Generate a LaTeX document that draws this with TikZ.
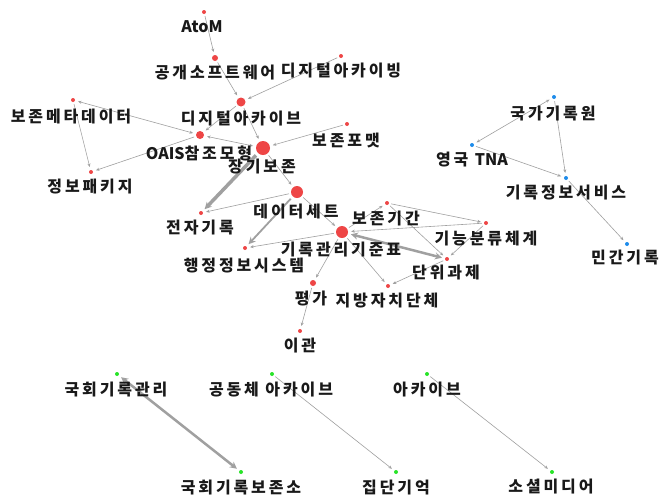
\documentclass[tikz,border=0pt]{standalone}
\usepackage{fontspec}
\newfontfamily\kr[LetterSpace=18]{Noto Sans CJK KR}
\newfontfamily\krl{Noto Sans CJK KR}
\usetikzlibrary{arrows.meta}
\definecolor{rd}{RGB}{238,70,70}
\definecolor{bl}{RGB}{30,140,235}
\definecolor{gr}{RGB}{40,228,40}
\definecolor{eg}{RGB}{160,160,160}
\definecolor{tx}{RGB}{25,25,25}
\begin{document}
\begin{tikzpicture}[x=1pt,y=-1pt,
  dot/.style={circle,inner sep=0pt,minimum size=#1},
  r/.style={dot=#1,fill=rd},
  b/.style={dot=#1,fill=bl},
  g/.style={dot=#1,fill=gr},
  lbl/.style={font=\kr\bfseries\fontsize{16}{18}\selectfont,text=tx,inner sep=0pt},
  e/.style={draw=eg,line width=0.6pt,-{Stealth[length=3.5pt,width=3pt]},shorten >=3pt,shorten <=2pt},
  ee/.style={e,{Stealth[length=3.5pt,width=3pt]}-{Stealth[length=3.5pt,width=3pt]},shorten <=3pt},
  thk/.style={draw=eg,line width=#1,-{Stealth[length=7pt,width=7pt]},shorten >=3pt,shorten <=3pt},
  thkk/.style={thk=#1,{Stealth[length=7pt,width=7pt]}-{Stealth[length=7pt,width=7pt]}}
]
\useasboundingbox (0,0) rectangle (659,499);
\fill[white] (0,0) rectangle (659,499);
% dots
\node[r=4pt] (atom) at (204,12) {};
\node[r=6pt] (pub) at (215,58) {};
\node[r=4pt] (dac) at (341,56) {};
\node[r=9pt] (dar) at (241,102) {};
\node[r=8pt] (oais) at (200,135) {};
\node[r=14pt] (ltp) at (263,148) {};
\node[r=4pt] (pmd) at (73,100) {};
\node[r=4pt] (pfm) at (347,124) {};
\node[r=4pt] (pkg) at (91,172) {};
\node[r=4pt] (erec) at (201,213) {};
\node[r=12pt] (ds) at (297,192) {};
\node[r=4pt] (adm) at (245,248) {};
\node[r=12pt] (rms) at (342,232) {};
\node[r=4pt] (ret) at (387,203) {};
\node[r=4pt] (fcs) at (486,223) {};
\node[r=4pt] (unit) at (447,259) {};
\node[r=6pt] (eval) at (313,283) {};
\node[r=4pt] (loc) at (388,286) {};
\node[r=4pt] (trans) at (300,331) {};
\node[b=4pt] (nak) at (554,97) {};
\node[b=4pt] (tna) at (472,145) {};
\node[b=4pt] (ris) at (566,178) {};
\node[b=4pt] (priv) at (627,244) {};
\node[g=4pt] (nal) at (117,374) {};
\node[g=4pt] (ca) at (272,374) {};
\node[g=4pt] (arc) at (427,374) {};
\node[g=4pt] (nar) at (241,472) {};
\node[g=4pt] (cm) at (396,472) {};
\node[g=4pt] (sm) at (552,472) {};
% edges
\draw[e] (atom) -- (pub);
\draw[e] (pub) -- (dar);
\draw[e] (dac) -- (dar);
\draw[e] (dar) -- (ltp);
\draw[e] (dar) -- (oais);
\draw[ee] (pmd) -- (oais);
\draw[e] (pmd) -- (pkg);
\draw[e] (oais) -- (pkg);
\draw[ee] (oais) -- (ltp);
\draw[e] (pfm) -- (ltp);
\draw[thk=3.5pt] (ltp) -- (erec);
\draw[e] (ds) -- (erec);
\draw[e] (ltp) -- (ds);
\draw[thk=1.8pt] (ds) -- (adm);
\draw[e] (rms) -- (adm);
\draw[e] (ds) -- (rms);
\draw[e] (fcs) -- (rms);
\draw[e] (rms) -- (ret);
\draw[thkk=2.5pt] (unit) -- (rms);
\draw[e] (ret) -- (fcs);
\draw[e] (ret) -- (unit);
\draw[e] (fcs) -- (unit);
\draw[e] (unit) -- (loc);
\draw[e] (rms) -- (loc);
\draw[e] (rms) -- (eval);
\draw[e] (eval) -- (trans);
\draw[ee] (tna) -- (nak);
\draw[e] (nak) -- (ris);
\draw[e] (tna) -- (ris);
\draw[e] (ris) -- (priv);
\draw[thkk=2.5pt] (nal) -- (nar);
\draw[e] (ca) -- (cm);
\draw[e] (arc) -- (sm);
% labels
\node[lbl] (latom) at (202,27) {\krl AtoM};
\node[lbl] (lpub) at (215,73) {공개소프트웨어};
\node[lbl] (ldac) at (341,71) {디지털아카이빙};
\node[lbl] (ldar) at (241,119) {디지털아카이브};
\node[lbl] (loais) at (199,153) {{\krl OAIS}참조모형};
\node[lbl] (lltp) at (262,167) {장기보존};
\node[lbl] (lpmd) at (71,117) {보존메타데이터};
\node[lbl] (lpfm) at (346,140) {보존포맷};
\node[lbl] (lpkg) at (90,187) {정보패키지};
\node[lbl] (lerec) at (200,228) {전자기록};
\node[lbl] (lds) at (296,212) {데이터세트};
\node[lbl] (ladm) at (244,266) {행정정보시스템};
\node[lbl] (lrms) at (341,250) {기록관리기준표};
\node[lbl] (lret) at (386,218) {보존기간};
\node[lbl] (lfcs) at (486,239) {기능분류체계};
\node[lbl] (lunit) at (446,272) {단위과제};
\node[lbl] (leval) at (311,299) {평가};
\node[lbl] (lloc) at (387,301) {지방자치단체};
\node[lbl] (ltrans) at (300,346) {이관};
\node[lbl] (lnak) at (553,113) {국가기록원};
\node[lbl] (ltna) at (472,160) {영국 {\krl TNA}};
\node[lbl] (lris) at (566,193) {기록정보서비스};
\node[lbl] (lpriv) at (625,258) {민간기록};
\node[lbl] (lnal) at (116,390) {국회기록관리};
\node[lbl] (lca) at (271,390) {공동체 아카이브};
\node[lbl] (larc) at (427,390) {아카이브};
\node[lbl] (lnar) at (241,487) {국회기록보존소};
\node[lbl] (lcm) at (396,487) {집단기억};
\node[lbl] (lsm) at (551,487) {소셜미디어};
\end{tikzpicture}
\end{document}
